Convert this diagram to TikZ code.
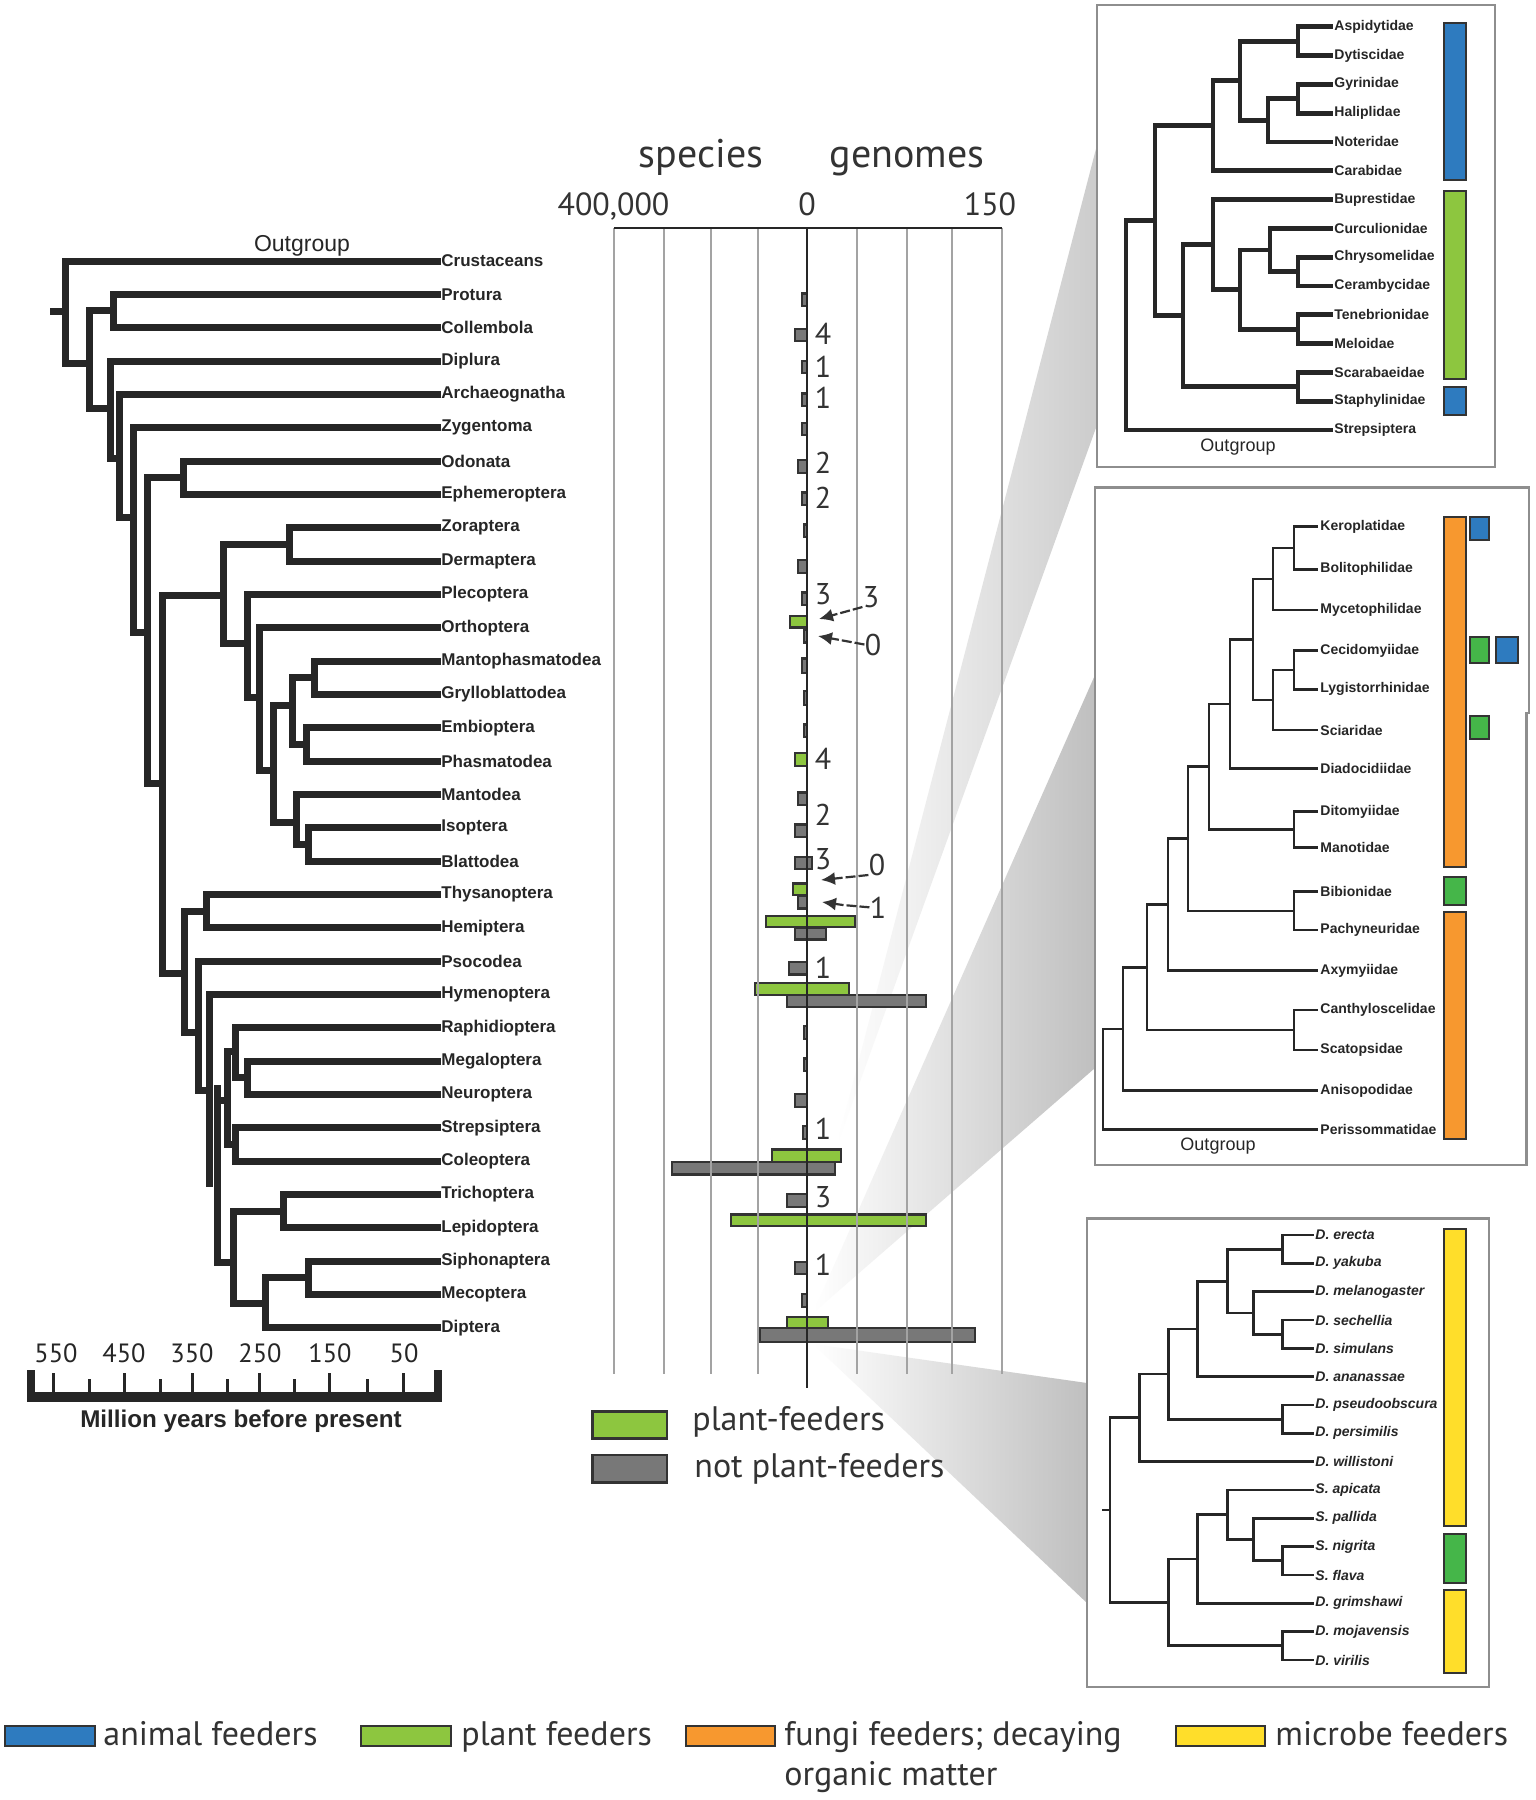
\documentclass[tikz,border=0pt]{standalone}
\usepackage{fontspec}
\setmainfont{Liberation Sans}
\newfontfamily\pts{PT Sans}
\usetikzlibrary{arrows.meta}
\definecolor{treec}{HTML}{262626}
\definecolor{olc}{HTML}{333333}
\definecolor{pgreen}{HTML}{8DC63F}
\definecolor{dgreen}{HTML}{45B649}
\definecolor{bgray}{HTML}{787878}
\definecolor{ablue}{HTML}{2E7BBF}
\definecolor{forange}{HTML}{F7982F}
\definecolor{myellow}{HTML}{FFDE2A}
\definecolor{gridc}{HTML}{A3A3A3}
\definecolor{boxc}{HTML}{8E8E8E}
\begin{document}
\begin{tikzpicture}[x=0.5pt,y=-0.5pt,line join=miter,
  br/.style={draw=treec,line width=3.5pt,line cap=rect},
  brb/.style={draw=treec,line width=2.4pt,line cap=rect},
  brc/.style={draw=treec,line width=1.4pt,line cap=rect},
  tx/.style={anchor=west,inner sep=2pt,text=treec,font=\bfseries\fontsize{8.5}{10}\selectfont},
  bx/.style={anchor=west,inner sep=1.5pt,text=treec,font=\bfseries\fontsize{7}{8}\selectfont},
  dx/.style={anchor=west,inner sep=1pt,text=treec,font=\bfseries\itshape\fontsize{7}{8}\selectfont},
  og/.style={text=treec,inner sep=0pt,anchor=base,font=\fontsize{9}{10}\selectfont},
  nm/.style={anchor=base,inner sep=0pt,text=olc,font=\pts\fontsize{15}{18}\selectfont},
  hd/.style={anchor=base,inner sep=0pt,text=olc,font=\pts\fontsize{20}{24}\selectfont},
  ax/.style={anchor=base,inner sep=0pt,text=olc,font=\pts\fontsize{16}{19}\selectfont},
  lg/.style={anchor=base west,inner sep=0pt,text=olc,font=\pts\fontsize{17}{20}\selectfont},
  pbar/.style={fill=pgreen,draw=olc,line width=1.2pt},
  gbar/.style={fill=bgray,draw=olc,line width=1.2pt},
  fb/.style={draw=olc,line width=1.1pt},
  ann/.style={draw=olc,line width=1.1pt,dash pattern=on 5pt off 1.5pt,-{Latex[length=7pt,width=6.5pt]}},
  frame/.style={draw=boxc,line width=1.2pt,fill=white},
  tick/.style={draw=treec,line width=1.5pt}
]
\path[use as bounding box] (0,0) rectangle (1536,1800);
\fill[white] (0,0) rectangle (1536,1800);

% ---------------- gray wedges ----------------
\shade[left color=white,right color=black!20] (836,1148) -- (1097,145) -- (1097,425) -- cycle;
\shade[left color=white,right color=black!25] (813,1313) -- (1095,675) -- (1095,1068) -- cycle;
\shade[left color=white,right color=black!25] (813,1344) -- (1087,1383) -- (1087,1603) -- cycle;

% ---------------- left tree labels ----------------
\foreach \n/\y/\t in {crus/261/Crustaceans,prot/294.3/Protura,coll/327.7/Collembola,dipl/361/Diplura,
  arch/394.4/Archaeognatha,zyge/427.7/Zygentoma,odon/461/Odonata,ephe/494.4/Ephemeroptera,
  zora/527.7/Zoraptera,derm/561.1/Dermaptera,plec/594.4/Plecoptera,orth/627.7/Orthoptera,
  mant/661.1/Mantophasmatodea,gryl/694.4/Grylloblattodea,embi/727.8/Embioptera,phas/761.1/Phasmatodea,
  mnto/794.4/Mantodea,isop/827.8/Isoptera,blat/861.1/Blattodea,thys/894.5/Thysanoptera,
  hemi/927.8/Hemiptera,psoc/961.1/Psocodea,hyme/994.5/Hymenoptera,raph/1027.8/Raphidioptera,
  mega/1061.2/Megaloptera,neur/1094.5/Neuroptera,stre/1127.8/Strepsiptera,cole/1161.2/Coleoptera,
  tric/1194.5/Trichoptera,lepi/1227.9/Lepidoptera,siph/1261.2/Siphonaptera,meco/1294.5/Mecoptera,
  dipt/1327.9/Diptera}
  \node[tx] (\n) at (437,\y) {\t};
\node[text=treec,inner sep=0pt,anchor=base,font=\fontsize{11.5}{13}\selectfont] (ogl) at (302,251) {Outgroup};

% ---------------- left tree branches ----------------
\draw[br] (crus.west) -- (65,261) -- (65,363) -- (89,363);
\draw[br] (53,311) -- (65,311);
\draw[br] (113,310) -- (89,310) -- (89,408) -- (110,408);
\draw[br] (prot.west) -- (113,294.3) -- (113,327.7) -- (coll.west);
\draw[br] (dipl.west) -- (110,361) -- (110,458) -- (119,458);
\draw[br] (arch.west) -- (119,394.4) -- (119,517) -- (133,517);
\draw[br] (zyge.west) -- (133,427.7) -- (133,632) -- (147,632);
\draw[br] (183,477.7) -- (147,477.7) -- (147,783) -- (162,783);
\draw[br] (odon.west) -- (183,461) -- (183,494.4) -- (ephe.west);
\draw[br] (223,595) -- (162,595) -- (162,973) -- (184,973);
\draw[br] (289,544.4) -- (223,544.4) -- (223,643) -- (247,643);
\draw[br] (zora.west) -- (289,527.7) -- (289,561.1) -- (derm.west);
\draw[br] (plec.west) -- (247,594.4) -- (247,697) -- (259,697);
\draw[br] (orth.west) -- (259,627.7) -- (259,770) -- (273,770);
\draw[br] (292,705) -- (273,705) -- (273,822) -- (296,822);
\draw[br] (314,677.8) -- (292,677.8) -- (292,744.5) -- (306,744.5);
\draw[br] (mant.west) -- (314,661.1) -- (314,694.4) -- (gryl.west);
\draw[br] (embi.west) -- (306,727.8) -- (306,761.1) -- (phas.west);
\draw[br] (mnto.west) -- (296,794.4) -- (296,844.5) -- (308,844.5);
\draw[br] (isop.west) -- (308,827.8) -- (308,861.1) -- (blat.west);
\draw[br] (206,911) -- (184,911) -- (184,1032) -- (198,1032);
\draw[br] (thys.west) -- (206,894.5) -- (206,927.8) -- (hemi.west);
\draw[br] (psoc.west) -- (198,961.1) -- (198,1090) -- (209,1090);
\draw[br] (hyme.west) -- (209,994.5) -- (209,1183);
\draw[br] (217,1088) -- (217,1262) -- (233,1262);
\draw[br] (217,1100) -- (227,1100);
\draw[br] (235,1051) -- (227,1051) -- (227,1144.5) -- (235,1144.5);
\draw[br] (raph.west) -- (235,1027.8) -- (235,1077.8) -- (247,1077.8);
\draw[br] (mega.west) -- (247,1061.2) -- (247,1094.5) -- (neur.west);
\draw[br] (stre.west) -- (235,1127.8) -- (235,1161.2) -- (cole.west);
\draw[br] (283,1211.2) -- (233,1211.2) -- (233,1303) -- (265,1303);
\draw[br] (tric.west) -- (283,1194.5) -- (283,1227.9) -- (lepi.west);
\draw[br] (308,1277.9) -- (265,1277.9) -- (265,1327.9) -- (dipt.west);
\draw[br] (siph.west) -- (308,1261.2) -- (308,1294.5) -- (meco.west);

% ---------------- time scale ----------------
\fill[treec] (27,1392) rectangle (442,1402);
\fill[treec] (27,1370) rectangle (35,1402);
\fill[treec] (434,1370) rectangle (442,1402);
\foreach \x in {53,124.5,192.5,259,329,403} \draw[tick] (\x,1373) -- (\x,1393);
\foreach \x in {89,160,227,294.5,367.6} \draw[tick] (\x,1379) -- (\x,1393);
\foreach \x/\t in {56/550,124/450,192/350,260/250,330/150,404/50}
  \node[anchor=base,inner sep=0pt,text=treec,font=\pts\fontsize{13.2}{15}\selectfont] at (\x,1362) {\t};
\node[anchor=base,inner sep=0pt,text=treec,font=\bfseries\fontsize{12.1}{14}\selectfont] (myr) at (241,1427) {Million years before present};

% ---------------- bar chart ----------------
\node[hd] (hsp) at (701,167.5) {species};
\node[hd] (hgn) at (907,167.5) {genomes};
\node[ax] (a400) at (613.5,215.7) {400,000};
\node[ax] (a0) at (807,215.7) {0};
\node[ax] (a150) at (990,215.7) {150};

% gray bars
\foreach \a/\b/\c/\d in {801.7/293.6/807/305.7, 795/329/807/341, 801.7/361/807/373, 801.7/393.6/807/405.7,
  801.7/423/807/435, 798/460/807/473, 801.7/492.5/807/505, 804/524.6/807/537, 798/560/807/573,
  801.7/592.5/807/605, 804/630/807/642.5, 802/658.6/807/673, 804/690.7/807/705, 804/724.6/807/737,
  798/792.5/807/805, 795/824.6/807/837, 795/857/811.7/869, 798/896/807/908.6, 795/928/826/939.6,
  789/962/807/974.6, 786.7/995/926/1006.8, 804/1026/807/1039, 804/1058.6/807/1071, 795/1094/807/1107,
  803/1125.7/807/1139, 672/1162/835/1174.6, 787/1194/807/1207, 795/1261.7/807/1274,
  801.7/1294/807/1306.7, 760/1328/975/1341.7}
  \draw[gbar] (\a,\b) rectangle (\c,\d);
% green bars
\foreach \a/\b/\c/\d in {790/615.7/807/627.5, 795/753/807/766, 792.7/883.6/807/895, 766/915.7/855/927,
  755/983/849/995, 772/1149.6/840.7/1162, 731/1214.6/926/1226, 786.7/1317/828/1328}
  \draw[pbar] (\a,\b) rectangle (\c,\d);

% gridlines and axis
\foreach \x in {614,664,711,758,857,907,952,1002} \draw[gridc,line width=1pt] (\x,228) -- (\x,1374);
\draw[treec,line width=1.3pt] (614,228) -- (1002,228);
\draw[treec,line width=1.3pt] (807,228) -- (807,1388);

% genome counts
\foreach \y/\t in {344/4,377/1,408/1,473/2,508/2,604/3,769/4,825/2,869/3,978/1,1139/1,1207/3,1275/1}
  \node[nm] at (823,\y) {\t};
\node[nm] (n3b) at (871,607) {3};
\node[nm] (n0a) at (873,655) {0};
\node[nm] (n0b) at (877,875) {0};
\node[nm] (n1t) at (878,918) {1};
\coordinate (t1) at (819,619);
\coordinate (t2) at (818,636);
\coordinate (t3) at (821,880);
\coordinate (t4) at (822,902);
\draw[ann] (n3b.base west) -- (t1);
\draw[ann] (n0a.west) -- (840,640) -- (t2);
\draw[ann] (n0b.base west) -- (t3);
\draw[ann] (n1t.west) -- (843,905) -- (t4);

% chart legend
\draw[pbar,line width=1.3pt] (592.7,1411.7) rectangle (667,1438.3);
\draw[gbar,line width=1.3pt] (592.7,1455) rectangle (667,1482.7);
\node[lg] (lpf) at (692,1430) {plant-feeders};
\node[lg] (lnp) at (694,1477) {not plant-feeders};

% ---------------- top-right box (beetles) ----------------
\draw[frame] (1097,5) rectangle (1495,467);
\foreach \n/\y/\t in {ta/26.7/Aspidytidae,tb/55.5/Dytiscidae,tc/84.3/Gyrinidae,td/113.1/Haliplidae,
  te/141.9/Noteridae,tf/170.7/Carabidae,tg/199.5/Buprestidae,th/228.3/Curculionidae,
  ti/257.1/Chrysomelidae,tj/285.9/Cerambycidae,tk/314.7/Tenebrionidae,tl/343.5/Meloidae,
  tm/372.3/Scarabaeidae,tn/401.1/Staphylinidae,to/429.9/Strepsiptera}
  \node[bx] (\n) at (1331,\y) {\t};
\draw[brb] (ta.west) -- (1298,26.7) -- (1298,55.5) -- (tb.west);
\draw[brb] (tc.west) -- (1298,84.3) -- (1298,113.1) -- (td.west);
\draw[brb] (1298,98.7) -- (1268,98.7) -- (1268,141.9) -- (te.west);
\draw[brb] (1298,41.1) -- (1240,41.1) -- (1240,120.3) -- (1268,120.3);
\draw[brb] (1240,80.7) -- (1213,80.7) -- (1213,170.7) -- (tf.west);
\draw[brb] (ti.west) -- (1298,257.1) -- (1298,285.9) -- (tj.west);
\draw[brb] (th.west) -- (1270,228.3) -- (1270,271.5) -- (1298,271.5);
\draw[brb] (tk.west) -- (1298,314.7) -- (1298,343.5) -- (tl.west);
\draw[brb] (1270,249.9) -- (1240,249.9) -- (1240,329.1) -- (1298,329.1);
\draw[brb] (tg.west) -- (1213,199.5) -- (1213,289.5) -- (1240,289.5);
\draw[brb] (tm.west) -- (1298,372.3) -- (1298,401.1) -- (tn.west);
\draw[brb] (1213,244.5) -- (1183,244.5) -- (1183,386.7) -- (1298,386.7);
\draw[brb] (1213,125.7) -- (1155,125.7) -- (1155,315.6) -- (1183,315.6);
\draw[brb] (1155,220.6) -- (1126,220.6) -- (1126,429.9) -- (to.west);
\node[og] (ogt) at (1238,451) {Outgroup};
\draw[fb,fill=ablue] (1444,23.3) rectangle (1466,180);
\draw[fb,fill=pgreen] (1444,190.7) rectangle (1466,379.3);
\draw[fb,fill=ablue] (1444,386.7) rectangle (1466,415);

% ---------------- middle-right box (fungus gnats) ----------------
\fill[white] (1095,487.3) rectangle (1528,1165);
\draw[draw=boxc,line width=1.2pt] (1095,487.3) -- (1529,487.3) -- (1529,713) -- (1526.5,713) -- (1526.5,1165) -- (1095,1165) -- cycle;
\foreach \n/\y/\t in {ma/526.7/Keroplatidae,mb/569.3/Bolitophilidae,mc/610/Mycetophilidae,
  md/650.7/Cecidomyiidae,me/689.3/Lygistorrhinidae,mf/730/Sciaridae,mg/768.3/Diadocidiidae,
  mh/811.7/Ditomyiidae,mi/847.3/Manotidae,mj/891.7/Bibionidae,mk/930/Pachyneuridae,
  ml/970.7/Axymyiidae,mm/1010/Canthyloscelidae,mn/1050/Scatopsidae,mo/1090.7/Anisopodidae,
  mp/1129.3/Perissommatidae}
  \node[bx] (\n) at (1317,\y) {\t};
\draw[brc] (ma.west) -- (1294,526.7) -- (1294,569.3) -- (mb.west);
\draw[brc] (1294,548) -- (1273,548) -- (1273,610) -- (mc.west);
\draw[brc] (md.west) -- (1294,650.7) -- (1294,689.3) -- (me.west);
\draw[brc] (1294,670) -- (1273,670) -- (1273,730) -- (mf.west);
\draw[brc] (1273,579) -- (1253,579) -- (1253,700) -- (1273,700);
\draw[brc] (1253,639.5) -- (1230,639.5) -- (1230,768.3) -- (mg.west);
\draw[brc] (mh.west) -- (1294,811.7) -- (1294,847.3) -- (mi.west);
\draw[brc] (1230,704) -- (1209,704) -- (1209,829.5) -- (1294,829.5);
\draw[brc] (mj.west) -- (1294,891.7) -- (1294,930) -- (mk.west);
\draw[brc] (1209,766.7) -- (1188,766.7) -- (1188,910.9) -- (1294,910.9);
\draw[brc] (1188,838.8) -- (1168,838.8) -- (1168,970.7) -- (ml.west);
\draw[brc] (mm.west) -- (1294,1010) -- (1294,1050) -- (mn.west);
\draw[brc] (1168,904.8) -- (1147,904.8) -- (1147,1030) -- (1294,1030);
\draw[brc] (1147,967.4) -- (1123,967.4) -- (1123,1090.7) -- (mo.west);
\draw[brc] (1123,1029) -- (1103,1029) -- (1103,1129.3) -- (mp.west);
\node[og] (ogm) at (1218,1150) {Outgroup};
\draw[fb,fill=forange] (1444,516.7) rectangle (1466,866.7);
\draw[fb,fill=ablue] (1470,516.7) rectangle (1489,540);
\draw[fb,fill=dgreen] (1470,636.7) rectangle (1489,663.3);
\draw[fb,fill=ablue] (1496,636.7) rectangle (1518,663.3);
\draw[fb,fill=dgreen] (1470,716) rectangle (1489,739.3);
\draw[fb,fill=dgreen] (1444,876.7) rectangle (1466,905);
\draw[fb,fill=forange] (1444,912.3) rectangle (1466,1139.3);

% ---------------- bottom-right box (Drosophila) ----------------
\draw[frame] (1087,1218.3) rectangle (1489,1687);
\foreach \n/\y/\g/\s in {da/1235/D./erecta,db/1263.3/D./yakuba,dc/1291.7/D./melanogaster,
  dd/1320/D./sechellia,de/1348.3/D./simulans,df/1376.7/D./ananassae,dg/1405/D./pseudoobscura,
  dh/1433.3/D./persimilis,di/1461.7/D./willistoni,dj/1490/S./apicata,dk/1518.3/S./pallida,
  dl/1546.7/S./nigrita,dm/1575/S./flava,dn/1603.3/D./grimshawi,do/1631.7/D./mojavensis,
  dp/1660/D./virilis}
  \node[dx] (\n) at (1313,\y) {\g\ \s};
\draw[brc] (da.west) -- (1282.7,1235) -- (1282.7,1263.3) -- (db.west);
\draw[brc] (dd.west) -- (1282.7,1320) -- (1282.7,1348.3) -- (de.west);
\draw[brc] (dc.west) -- (1253.3,1291.7) -- (1253.3,1334.2) -- (1282.7,1334.2);
\draw[brc] (1282.7,1249.2) -- (1227.3,1249.2) -- (1227.3,1313) -- (1253.3,1313);
\draw[brc] (1227.3,1281.1) -- (1197.3,1281.1) -- (1197.3,1376.7) -- (df.west);
\draw[brc] (dg.west) -- (1282.7,1405) -- (1282.7,1433.3) -- (dh.west);
\draw[brc] (1197.3,1328.9) -- (1168.3,1328.9) -- (1168.3,1419.2) -- (1282.7,1419.2);
\draw[brc] (1168.3,1374) -- (1139.3,1374) -- (1139.3,1461.7) -- (di.west);
\draw[brc] (dl.west) -- (1282.7,1546.7) -- (1282.7,1575) -- (dm.west);
\draw[brc] (dk.west) -- (1253.3,1518.3) -- (1253.3,1560.8) -- (1282.7,1560.8);
\draw[brc] (dj.west) -- (1227.3,1490) -- (1227.3,1539.6) -- (1253.3,1539.6);
\draw[brc] (1227.3,1514.8) -- (1197.3,1514.8) -- (1197.3,1603.3) -- (dn.west);
\draw[brc] (do.west) -- (1282.7,1631.7) -- (1282.7,1660) -- (dp.west);
\draw[brc] (1197.3,1559) -- (1168.3,1559) -- (1168.3,1645.8) -- (1282.7,1645.8);
\draw[brc] (1139.3,1417.8) -- (1110,1417.8) -- (1110,1602.4) -- (1168.3,1602.4);
\draw[brc] (1103,1510) -- (1110,1510);
\draw[fb,fill=myellow] (1444,1229.3) rectangle (1466,1526);
\draw[fb,fill=dgreen] (1444,1534) rectangle (1466,1582.7);
\draw[fb,fill=myellow] (1444,1590) rectangle (1466,1673.3);

% ---------------- bottom legend ----------------
\draw[fb,line width=1.4pt,fill=ablue] (5,1726) rectangle (95,1746);
\draw[fb,line width=1.4pt,fill=pgreen] (361,1726) rectangle (451,1746);
\draw[fb,line width=1.4pt,fill=forange] (686,1726) rectangle (775,1746);
\draw[fb,line width=1.4pt,fill=myellow] (1176,1726) rectangle (1265,1746);
\node[lg] (lan) at (103,1745) {animal feeders};
\node[lg] (lpl) at (461,1745) {plant feeders};
\node[lg] (lfu) at (784,1745) {fungi feeders; decaying};
\node[lg] (lor) at (784,1785) {organic matter};
\node[lg] (lmi) at (1275,1745) {microbe feeders};
\end{tikzpicture}
\end{document}
